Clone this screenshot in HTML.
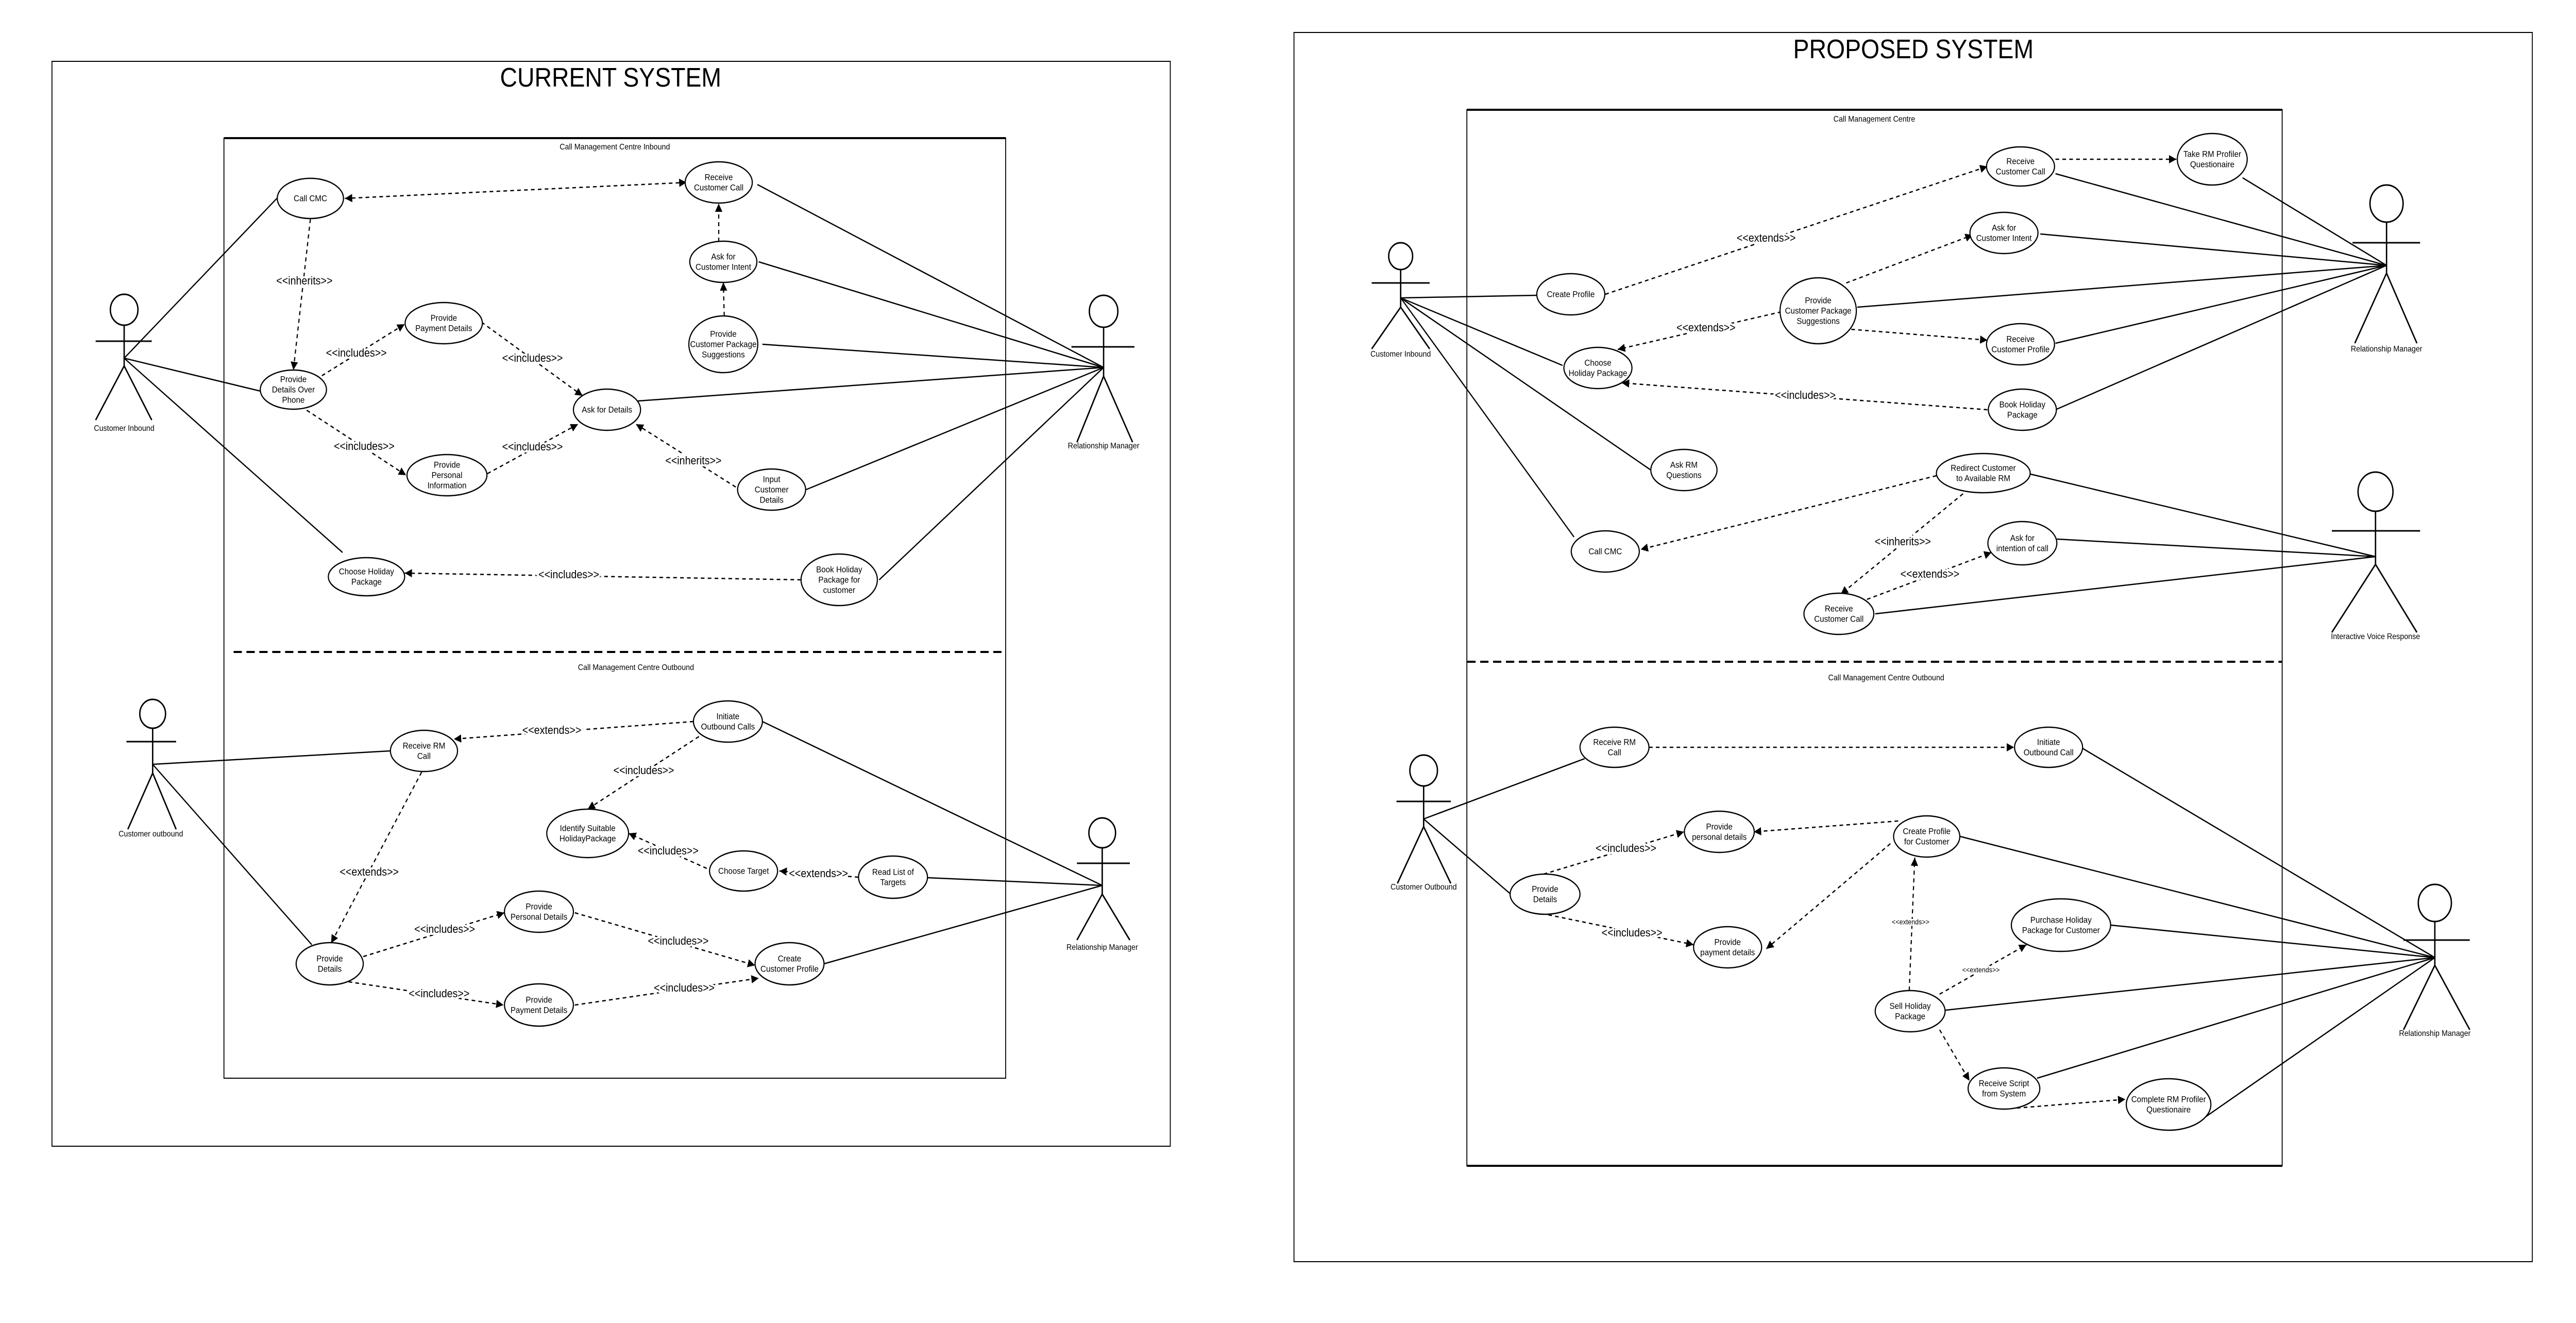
<!DOCTYPE html>
<html><head><meta charset="utf-8"><style>
html,body{margin:0;padding:0;background:#fff;width:100%;height:100%;overflow:hidden;}
svg{display:block;position:fixed;left:0;top:0;width:100vw;height:100vh;}
text{font-family:"Liberation Sans",sans-serif;fill:#000;}
</style></head><body>
<svg viewBox="0 0 5602 2567" preserveAspectRatio="none" xmlns="http://www.w3.org/2000/svg">
<defs>
<marker id="ah" viewBox="0 0 10 10" refX="10" refY="5" markerWidth="16" markerHeight="16" markerUnits="userSpaceOnUse" orient="auto-start-reverse">
<path d="M0,0 L10,5 L0,10 z" fill="#000"/></marker>
</defs>
<rect width="5602" height="2567" fill="#fff"/>

<!-- ===== CURRENT SYSTEM ===== -->
<g fill="none" stroke="#000">
<rect x="113" y="119" width="2432" height="2105" stroke-width="2"/>
<path d="M487 268 H2187 V2092 H487 Z" stroke-width="2"/>
<line x1="487" y1="268" x2="2187" y2="268" stroke-width="4"/>
<line x1="508" y1="1265" x2="2187" y2="1265" stroke-width="4" stroke-dasharray="18 10"/>
</g>
<text x="1328" y="168" font-size="52" text-anchor="middle">CURRENT SYSTEM</text>
<text x="1337" y="290" font-size="16" text-anchor="middle">Call Management Centre Inbound</text>
<text x="1383" y="1300" font-size="16" text-anchor="middle">Call Management Centre Outbound</text>

<g fill="none" stroke="#000" stroke-width="3">
<circle cx="270" cy="601" r="30"/><line x1="270" y1="631" x2="270" y2="710"/><line x1="208" y1="662" x2="330" y2="662"/><line x1="270" y1="710" x2="208" y2="815"/><line x1="270" y1="710" x2="330" y2="815"/>
<circle cx="2400" cy="604" r="31"/><line x1="2400" y1="635" x2="2400" y2="730"/><line x1="2330" y1="673" x2="2467" y2="673"/><line x1="2400" y1="730" x2="2342" y2="858"/><line x1="2400" y1="730" x2="2463" y2="858"/>
<circle cx="332" cy="1385" r="28"/><line x1="332" y1="1413" x2="332" y2="1500"/><line x1="275" y1="1439" x2="383" y2="1439"/><line x1="332" y1="1500" x2="278" y2="1609"/><line x1="332" y1="1500" x2="383" y2="1609"/>
<circle cx="2397" cy="1616" r="29"/><line x1="2397" y1="1645" x2="2397" y2="1735"/><line x1="2342" y1="1675" x2="2457" y2="1675"/><line x1="2397" y1="1735" x2="2342" y2="1824"/><line x1="2397" y1="1735" x2="2457" y2="1824"/>
</g>
<g font-size="16" text-anchor="middle">
<text x="270" y="836">Customer Inbound</text>
<text x="2400" y="870">Relationship Manager</text>
<text x="328" y="1623">Customer outbound</text>
<text x="2397" y="1843">Relationship Manager</text>
</g>

<g stroke="#000" stroke-width="2.5" fill="none">
<line x1="270" y1="695" x2="602" y2="385"/>
<line x1="270" y1="695" x2="567" y2="759"/>
<line x1="270" y1="695" x2="745" y2="1072"/>
<line x1="2400" y1="713" x2="1647" y2="358"/>
<line x1="2400" y1="713" x2="1650" y2="508"/>
<line x1="2400" y1="713" x2="1658" y2="668"/>
<line x1="2400" y1="713" x2="1387" y2="778"/>
<line x1="2400" y1="713" x2="1753" y2="950"/>
<line x1="2400" y1="713" x2="1912" y2="1125"/>
<line x1="332" y1="1483" x2="848" y2="1457"/>
<line x1="332" y1="1483" x2="678" y2="1833"/>
<line x1="2397" y1="1718" x2="1658" y2="1400"/>
<line x1="2397" y1="1718" x2="2017" y2="1703"/>
<line x1="2397" y1="1718" x2="1792" y2="1870"/>
</g>

<g stroke="#000" stroke-width="2.5" fill="none" stroke-dasharray="8 7" marker-end="url(#ah)">
<line x1="750" y1="385" x2="1493" y2="354" marker-start="url(#ah)"/>
<line x1="675" y1="425" x2="638" y2="718"/>
<line x1="1563" y1="469" x2="1563" y2="395"/>
<line x1="1575" y1="613" x2="1573" y2="548"/>
<line x1="700" y1="729" x2="880" y2="629"/>
<line x1="1047" y1="625" x2="1267" y2="768"/>
<line x1="667" y1="796" x2="883" y2="922"/>
<line x1="1060" y1="919" x2="1257" y2="823"/>
<line x1="1600" y1="945" x2="1383" y2="823"/>
<line x1="1742" y1="1125" x2="880" y2="1112"/>
<line x1="1508" y1="1400" x2="987" y2="1434"/>
<line x1="1520" y1="1429" x2="1278" y2="1570"/>
<line x1="1537" y1="1685" x2="1367" y2="1617"/>
<line x1="1867" y1="1702" x2="1695" y2="1690"/>
<line x1="917" y1="1498" x2="720" y2="1830"/>
<line x1="790" y1="1856" x2="1097" y2="1771"/>
<line x1="758" y1="1905" x2="1095" y2="1950"/>
<line x1="1250" y1="1771" x2="1642" y2="1873"/>
<line x1="1250" y1="1950" x2="1650" y2="1898"/>
</g>

<g font-size="22" text-anchor="middle" dominant-baseline="central" stroke="#fff" stroke-width="8" paint-order="stroke">
<text x="662" y="545">&lt;&lt;inherits&gt;&gt;</text>
<text x="775" y="685">&lt;&lt;includes&gt;&gt;</text>
<text x="1158" y="695">&lt;&lt;includes&gt;&gt;</text>
<text x="792" y="866">&lt;&lt;includes&gt;&gt;</text>
<text x="1158" y="867">&lt;&lt;includes&gt;&gt;</text>
<text x="1508" y="894">&lt;&lt;inherits&gt;&gt;</text>
<text x="1237" y="1115">&lt;&lt;includes&gt;&gt;</text>
<text x="1200" y="1417">&lt;&lt;extends&gt;&gt;</text>
<text x="1400" y="1495">&lt;&lt;includes&gt;&gt;</text>
<text x="1453" y="1651">&lt;&lt;includes&gt;&gt;</text>
<text x="1780" y="1695">&lt;&lt;extends&gt;&gt;</text>
<text x="803" y="1692">&lt;&lt;extends&gt;&gt;</text>
<text x="967" y="1803">&lt;&lt;includes&gt;&gt;</text>
<text x="955" y="1928">&lt;&lt;includes&gt;&gt;</text>
<text x="1475" y="1826">&lt;&lt;includes&gt;&gt;</text>
<text x="1488" y="1917">&lt;&lt;includes&gt;&gt;</text>
</g>

<g fill="#fff" stroke="#000" stroke-width="2.5">
<ellipse cx="675" cy="385" rx="72" ry="39"/>
<ellipse cx="1563" cy="354" rx="73" ry="40"/>
<ellipse cx="1573" cy="508" rx="73" ry="40"/>
<ellipse cx="1573" cy="668" rx="75" ry="55"/>
<ellipse cx="965" cy="627" rx="84" ry="40"/>
<ellipse cx="638" cy="756" rx="72" ry="38"/>
<ellipse cx="1320" cy="795" rx="73" ry="40"/>
<ellipse cx="972" cy="922" rx="87" ry="40"/>
<ellipse cx="1678" cy="950" rx="74" ry="40"/>
<ellipse cx="797" cy="1119" rx="83" ry="37"/>
<ellipse cx="1825" cy="1125" rx="83" ry="50"/>
<ellipse cx="922" cy="1457" rx="73" ry="40"/>
<ellipse cx="1583" cy="1400" rx="75" ry="40"/>
<ellipse cx="1278" cy="1617" rx="89" ry="47"/>
<ellipse cx="1617" cy="1690" rx="74" ry="39"/>
<ellipse cx="1942" cy="1702" rx="75" ry="41"/>
<ellipse cx="1172" cy="1769" rx="75" ry="40"/>
<ellipse cx="1717" cy="1870" rx="75" ry="41"/>
<ellipse cx="717" cy="1870" rx="73" ry="41"/>
<ellipse cx="1172" cy="1950" rx="75" ry="41"/>
</g>
<g font-size="17" text-anchor="middle" dominant-baseline="central">
<text x="675" y="385">Call CMC</text>
<text x="1563" y="344">Receive</text><text x="1563" y="364">Customer Call</text>
<text x="1573" y="498">Ask for</text><text x="1573" y="518">Customer Intent</text>
<text x="1573" y="648">Provide</text><text x="1573" y="668">Customer Package</text><text x="1573" y="688">Suggestions</text>
<text x="965" y="617">Provide</text><text x="965" y="637">Payment Details</text>
<text x="638" y="736">Provide</text><text x="638" y="756">Details Over</text><text x="638" y="776">Phone</text>
<text x="1320" y="795">Ask for Details</text>
<text x="972" y="902">Provide</text><text x="972" y="922">Personal</text><text x="972" y="942">Information</text>
<text x="1678" y="930">Input</text><text x="1678" y="950">Customer</text><text x="1678" y="970">Details</text>
<text x="797" y="1109">Choose Holiday</text><text x="797" y="1129">Package</text>
<text x="1825" y="1105">Book Holiday</text><text x="1825" y="1125">Package for</text><text x="1825" y="1145">customer</text>
<text x="922" y="1447">Receive RM</text><text x="922" y="1467">Call</text>
<text x="1583" y="1390">Initiate</text><text x="1583" y="1410">Outbound Calls</text>
<text x="1278" y="1607">Identify Suitable</text><text x="1278" y="1627">HolidayPackage</text>
<text x="1617" y="1690">Choose Target</text>
<text x="1942" y="1692">Read List of</text><text x="1942" y="1712">Targets</text>
<text x="1172" y="1759">Provide</text><text x="1172" y="1779">Personal Details</text>
<text x="1717" y="1860">Create</text><text x="1717" y="1880">Customer Profile</text>
<text x="717" y="1860">Provide</text><text x="717" y="1880">Details</text>
<text x="1172" y="1940">Provide</text><text x="1172" y="1960">Payment Details</text>
</g>

<!-- ===== PROPOSED SYSTEM ===== -->
<g fill="none" stroke="#000">
<rect x="2814" y="63" width="2693" height="2385" stroke-width="2"/>
<path d="M3190 213 H4963 V2262 H3190 Z" stroke-width="2"/>
<line x1="3190" y1="213" x2="4963" y2="213" stroke-width="4"/>
<line x1="3190" y1="2262" x2="4963" y2="2262" stroke-width="4"/>
<line x1="3191" y1="1284" x2="4963" y2="1284" stroke-width="4" stroke-dasharray="18 10"/>
</g>
<text x="4161" y="113" font-size="52" text-anchor="middle">PROPOSED SYSTEM</text>
<text x="4076" y="236" font-size="16" text-anchor="middle">Call Management Centre</text>
<text x="4102" y="1320" font-size="16" text-anchor="middle">Call Management Centre Outbound</text>

<g fill="none" stroke="#000" stroke-width="3">
<circle cx="3046" cy="497" r="26"/><line x1="3046" y1="523" x2="3046" y2="596"/><line x1="2983" y1="549" x2="3109" y2="549"/><line x1="3046" y1="596" x2="2983" y2="677"/><line x1="3046" y1="596" x2="3109" y2="677"/>
<circle cx="5190" cy="395" r="36"/><line x1="5190" y1="431" x2="5190" y2="530"/><line x1="5116" y1="471" x2="5263" y2="471"/><line x1="5190" y1="530" x2="5121" y2="666"/><line x1="5190" y1="530" x2="5256" y2="666"/>
<circle cx="5166" cy="954" r="38"/><line x1="5166" y1="992" x2="5166" y2="1095"/><line x1="5071" y1="1030" x2="5263" y2="1030"/><line x1="5166" y1="1095" x2="5071" y2="1227"/><line x1="5166" y1="1095" x2="5256" y2="1227"/>
<circle cx="3096" cy="1495" r="30"/><line x1="3096" y1="1525" x2="3096" y2="1604"/><line x1="3037" y1="1555" x2="3155" y2="1555"/><line x1="3096" y1="1604" x2="3039" y2="1714"/><line x1="3096" y1="1604" x2="3155" y2="1714"/>
<circle cx="5295" cy="1752" r="36"/><line x1="5295" y1="1788" x2="5295" y2="1873"/><line x1="5227" y1="1824" x2="5371" y2="1824"/><line x1="5295" y1="1873" x2="5227" y2="1998"/><line x1="5295" y1="1873" x2="5371" y2="1998"/>
</g>
<g font-size="16" text-anchor="middle">
<text x="3046" y="692">Customer Inbound</text>
<text x="5190" y="682">Relationship Manager</text>
<text x="5166" y="1240">Interactive Voice Response</text>
<text x="3096" y="1726">Customer Outbound</text>
<text x="5295" y="2010">Relationship Manager</text>
</g>

<g stroke="#000" stroke-width="2.5" fill="none">
<line x1="3046" y1="578" x2="3342" y2="573"/>
<line x1="3046" y1="578" x2="3398" y2="709"/>
<line x1="3046" y1="578" x2="3590" y2="912"/>
<line x1="3046" y1="578" x2="3423" y2="1042"/>
<line x1="5190" y1="515" x2="4470" y2="337"/>
<line x1="5190" y1="515" x2="4877" y2="345"/>
<line x1="5190" y1="515" x2="4437" y2="454"/>
<line x1="5190" y1="515" x2="4039" y2="596"/>
<line x1="5190" y1="515" x2="4470" y2="666"/>
<line x1="5190" y1="515" x2="4470" y2="795"/>
<line x1="5166" y1="1080" x2="4416" y2="920"/>
<line x1="5166" y1="1080" x2="4473" y2="1046"/>
<line x1="5166" y1="1080" x2="4078" y2="1191"/>
<line x1="3096" y1="1589" x2="3446" y2="1472"/>
<line x1="3096" y1="1589" x2="3288" y2="1737"/>
<line x1="5295" y1="1858" x2="4527" y2="1451"/>
<line x1="5295" y1="1858" x2="4263" y2="1623"/>
<line x1="5295" y1="1858" x2="4590" y2="1795"/>
<line x1="5295" y1="1858" x2="4231" y2="1960"/>
<line x1="5295" y1="1858" x2="4430" y2="2092"/>
<line x1="5295" y1="1858" x2="4798" y2="2166"/>
</g>

<g stroke="#000" stroke-width="2.5" fill="none" stroke-dasharray="8 7" marker-end="url(#ah)">
<line x1="3491" y1="571" x2="4322" y2="323"/>
<line x1="4470" y1="309" x2="4733" y2="309"/>
<line x1="4015" y1="549" x2="4290" y2="456"/>
<line x1="3874" y1="605" x2="3518" y2="678"/>
<line x1="4026" y1="639" x2="4322" y2="660"/>
<line x1="4322" y1="795" x2="3527" y2="743"/>
<line x1="4211" y1="923" x2="3568" y2="1066"/>
<line x1="4269" y1="958" x2="4003" y2="1153"/>
<line x1="4060" y1="1163" x2="4331" y2="1072"/>
<line x1="3586" y1="1450" x2="4380" y2="1450"/>
<line x1="3357" y1="1696" x2="3662" y2="1614"/>
<line x1="3367" y1="1775" x2="3683" y2="1833"/>
<line x1="4128" y1="1593" x2="3814" y2="1614"/>
<line x1="4111" y1="1637" x2="3841" y2="1841"/>
<line x1="4152" y1="1922" x2="4164" y2="1664"/>
<line x1="4218" y1="1929" x2="4407" y2="1833"/>
<line x1="4218" y1="1998" x2="4283" y2="2097"/>
<line x1="4371" y1="2151" x2="4622" y2="2133"/>
</g>
<g font-size="22" text-anchor="middle" dominant-baseline="central" stroke="#fff" stroke-width="8" paint-order="stroke">
<text x="3841" y="462">&lt;&lt;extends&gt;&gt;</text>
<text x="3710" y="636">&lt;&lt;extends&gt;&gt;</text>
<text x="3926" y="767">&lt;&lt;includes&gt;&gt;</text>
<text x="4138" y="1051">&lt;&lt;inherits&gt;&gt;</text>
<text x="4197" y="1114">&lt;&lt;extends&gt;&gt;</text>
<text x="3536" y="1646">&lt;&lt;includes&gt;&gt;</text>
<text x="3549" y="1810">&lt;&lt;includes&gt;&gt;</text>
</g>
<g font-size="14" text-anchor="middle" dominant-baseline="central" stroke="#fff" stroke-width="6" paint-order="stroke">
<text x="4155" y="1789">&lt;&lt;extends&gt;&gt;</text>
<text x="4308" y="1882">&lt;&lt;extends&gt;&gt;</text>
</g>

<g fill="#fff" stroke="#000" stroke-width="2.5">
<ellipse cx="4394" cy="323" rx="74" ry="38"/>
<ellipse cx="4811" cy="309" rx="76" ry="50"/>
<ellipse cx="4358" cy="452" rx="74" ry="40"/>
<ellipse cx="3416" cy="571" rx="74" ry="40"/>
<ellipse cx="3954" cy="603" rx="83" ry="64"/>
<ellipse cx="4394" cy="668" rx="74" ry="40"/>
<ellipse cx="3475" cy="714" rx="74" ry="40"/>
<ellipse cx="4398" cy="795" rx="74" ry="40"/>
<ellipse cx="3662" cy="912" rx="72" ry="40"/>
<ellipse cx="4313" cy="918" rx="102" ry="38"/>
<ellipse cx="4398" cy="1054" rx="75" ry="42"/>
<ellipse cx="3491" cy="1070" rx="74" ry="40"/>
<ellipse cx="3999" cy="1191" rx="76" ry="40"/>
<ellipse cx="3511" cy="1450" rx="75" ry="39"/>
<ellipse cx="4455" cy="1450" rx="74" ry="39"/>
<ellipse cx="3739" cy="1614" rx="76" ry="40"/>
<ellipse cx="4190" cy="1623" rx="72" ry="40"/>
<ellipse cx="3360" cy="1735" rx="76" ry="39"/>
<ellipse cx="3757" cy="1838" rx="74" ry="40"/>
<ellipse cx="4482" cy="1795" rx="108" ry="51"/>
<ellipse cx="4154" cy="1962" rx="76" ry="40"/>
<ellipse cx="4358" cy="2112" rx="78" ry="40"/>
<ellipse cx="4716" cy="2143" rx="92" ry="50"/>
</g>
<g font-size="17" text-anchor="middle" dominant-baseline="central">
<text x="4394" y="313">Receive</text><text x="4394" y="333">Customer Call</text>
<text x="4811" y="299">Take RM Profiler</text><text x="4811" y="319">Questionaire</text>
<text x="4358" y="442">Ask for</text><text x="4358" y="462">Customer Intent</text>
<text x="3416" y="571">Create Profile</text>
<text x="3954" y="583">Provide</text><text x="3954" y="603">Customer Package</text><text x="3954" y="623">Suggestions</text>
<text x="4394" y="658">Receive</text><text x="4394" y="678">Customer Profile</text>
<text x="3475" y="704">Choose</text><text x="3475" y="724">Holiday Package</text>
<text x="4398" y="785">Book Holiday</text><text x="4398" y="805">Package</text>
<text x="3662" y="902">Ask RM</text><text x="3662" y="922">Questions</text>
<text x="4313" y="908">Redirect Customer</text><text x="4313" y="928">to Available RM</text>
<text x="4398" y="1044">Ask for</text><text x="4398" y="1064">intention of call</text>
<text x="3491" y="1070">Call CMC</text>
<text x="3999" y="1181">Receive</text><text x="3999" y="1201">Customer Call</text>
<text x="3511" y="1440">Receive RM</text><text x="3511" y="1460">Call</text>
<text x="4455" y="1440">Initiate</text><text x="4455" y="1460">Outbound Call</text>
<text x="3739" y="1604">Provide</text><text x="3739" y="1624">personal details</text>
<text x="4190" y="1613">Create Profile</text><text x="4190" y="1633">for Customer</text>
<text x="3360" y="1725">Provide</text><text x="3360" y="1745">Details</text>
<text x="3757" y="1828">Provide</text><text x="3757" y="1848">payment details</text>
<text x="4482" y="1785">Purchase Holiday</text><text x="4482" y="1805">Package for Customer</text>
<text x="4154" y="1952">Sell Holiday</text><text x="4154" y="1972">Package</text>
<text x="4358" y="2102">Receive Script</text><text x="4358" y="2122">from System</text>
<text x="4716" y="2133">Complete RM Profiler</text><text x="4716" y="2153">Questionaire</text>
</g>
</svg>
</body></html>
